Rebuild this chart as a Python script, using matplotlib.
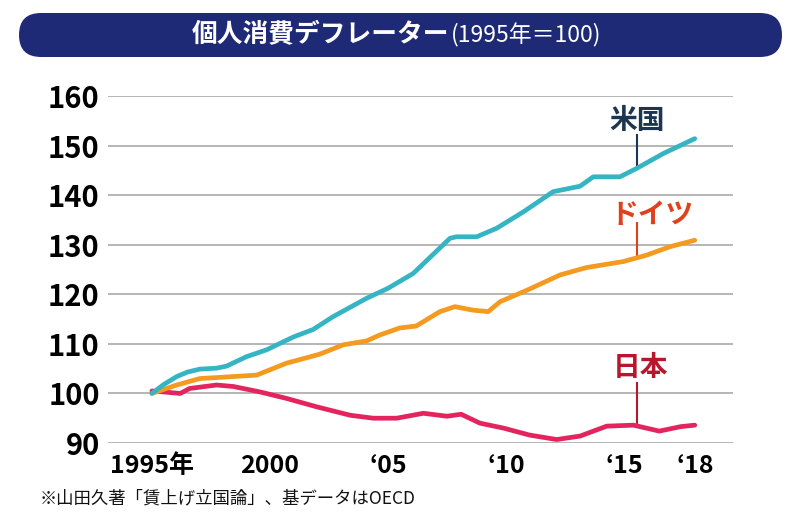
import matplotlib.pyplot as plt
from matplotlib.patches import FancyBboxPatch

plt.rcParams['font.family'] = ['Noto Sans CJK JP', 'DejaVu Sans']

# data (1995 = 100)
us_year = [1995.0, 1995.5, 1996.05, 1996.5, 1997.03, 1997.74, 1998.16, 1999.0, 1999.86,
           2001.0, 2001.83, 2002.68, 2004.1, 2005.0, 2006.07, 2007.63, 2007.9, 2008.76,
           2009.6, 2010.73, 2012.0, 2013.14, 2013.7, 2014.83, 2015.54, 2016.67, 2018.0]
us_val = [100.0, 101.8, 103.4, 104.3, 104.9, 105.1, 105.5, 107.4, 108.8,
          111.4, 112.9, 115.5, 119.2, 121.2, 124.2, 131.3, 131.6, 131.6,
          133.3, 136.6, 140.7, 141.8, 143.7, 143.7, 145.4, 148.4, 151.4]

de_year = [1995.0, 1996.05, 1997.03, 1997.74, 1999.44, 2000.7, 2002.1, 2003.1, 2004.1,
           2004.66, 2005.5, 2006.2, 2007.2, 2007.84, 2008.6, 2009.25, 2009.75, 2010.88,
           2012.29, 2013.42, 2014.97, 2015.96, 2016.95, 2018.0]
de_val = [100.0, 101.7, 103.0, 103.2, 103.7, 106.1, 107.9, 109.8, 110.6,
          111.8, 113.2, 113.6, 116.5, 117.5, 116.8, 116.5, 118.5, 120.8,
          123.9, 125.4, 126.6, 127.9, 129.6, 130.9]

jp_year = [1995.0, 1996.2, 1996.6, 1997.74, 1998.45, 1999.58, 2000.7, 2001.98, 2003.4,
           2004.38, 2005.37, 2006.5, 2007.5, 2008.1, 2008.9, 2009.9, 2011.0, 2012.15,
           2013.14, 2014.27, 2015.4, 2016.5, 2017.4, 2018.0]
jp_val = [100.5, 100.0, 101.0, 101.7, 101.4, 100.3, 99.0, 97.3, 95.6,
          95.0, 95.0, 96.0, 95.4, 95.8, 94.0, 93.0, 91.6, 90.7,
          91.4, 93.4, 93.6, 92.4, 93.3, 93.6]

x_ticks = [1995, 2000, 2005, 2010, 2015, 2018]
x_labels = ['1995年', '2000', '‘05', '‘10', '‘15', '‘18']
y_ticks = [90, 100, 110, 120, 130, 140, 150, 160]

fig = plt.figure(figsize=(8, 5.21), dpi=100)

# title banner
bax = fig.add_axes([19 / 800, (521 - 57) / 521, 763 / 800, 44 / 521])
bax.set_xlim(0, 763)
bax.set_ylim(0, 44)
bax.axis('off')
bax.add_patch(FancyBboxPatch((0, 0), 763, 44, boxstyle='round,pad=0,rounding_size=22',
                             facecolor='#1f2a76', edgecolor='none'))
bax.text(430, 22, '個人消費デフレーター', color='white', fontsize=18.5, fontweight='bold',
         ha='right', va='center')
bax.text(432, 21.5, '(1995年＝100)', color='white', fontsize=16.5, ha='left', va='center')

# main chart
ax = fig.add_axes([108 / 800, 78 / 521, 625 / 800, 347 / 521])
ax.plot(jp_year, jp_val, color='#e3245e', lw=3.4, solid_capstyle='round', clip_on=False, zorder=3)
ax.plot(de_year, de_val, color='#f39a1f', lw=3.4, solid_capstyle='round', clip_on=False, zorder=4)
ax.plot(us_year, us_val, color='#35b5c4', lw=3.4, solid_capstyle='round', clip_on=False, zorder=5)

ax.set_xlim(1993.14, 2019.62)
ax.set_ylim(90, 160)
ax.set_yticks(y_ticks)
ax.set_xticks(x_ticks)
ax.set_xticklabels(x_labels)
ax.tick_params(length=0)
ax.tick_params(axis='y', labelsize=21, pad=6)
ax.tick_params(axis='x', labelsize=18, pad=8)
for lab in ax.get_yticklabels() + ax.get_xticklabels():
    lab.set_fontweight('bold')
ax.grid(axis='y', color='#b0b0b0', lw=1.3)
ax.set_axisbelow(True)
for s in ax.spines.values():
    s.set_visible(False)

# series labels with leader lines
lead_x = 2015.55
ax.text(2015.55, 154.9, '米国', color='#1c3550', fontsize=20, fontweight='bold', ha='center', va='center')
ax.plot([lead_x, lead_x], [152.1, 145.6], color='#1c3550', lw=1.5)
ax.text(2016.2, 136.0, 'ドイツ', color='#e0401c', fontsize=20, fontweight='bold', ha='center', va='center')
ax.plot([lead_x, lead_x], [134.4, 127.9], color='#e0401c', lw=1.5)
ax.text(2015.7, 105.2, '日本', color='#b8172b', fontsize=20, fontweight='bold', ha='center', va='center')
ax.plot([lead_x, lead_x], [102.1, 93.8], color='#b8172b', lw=1.5)

fig.text(40 / 800, 1 - 498 / 521, '※山田久著「賃上げ立国論」、基データはOECD', fontsize=12.5,
         ha='left', va='center', color='#111111')

fig.savefig('out.png', dpi=100)
